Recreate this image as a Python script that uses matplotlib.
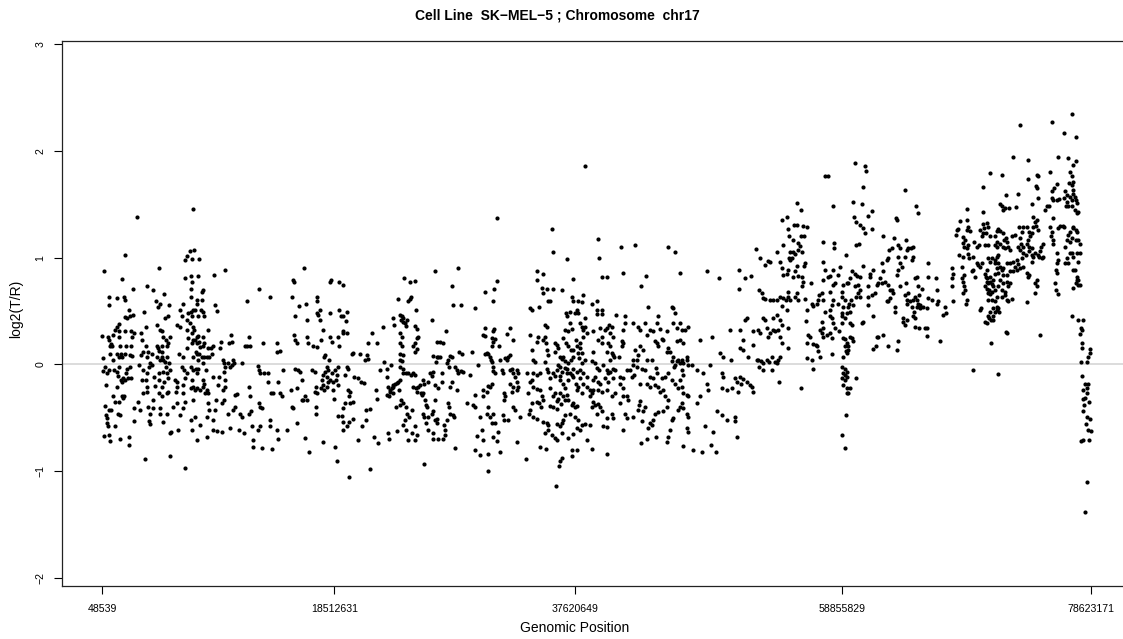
import matplotlib
matplotlib.use("Agg")
import matplotlib.pyplot as plt
import numpy as np

plt.rcParams["font.family"] = ["Liberation Sans", "DejaVu Sans"]

# (position in Mb, log2 ratio) per probe, grouped by stretch of chr17
probes_00_16 = [
    (0.07,0.27),(0.18,0.87),(0.15,0.06),(0.10,-0.06),(0.26,-0.02),(0.36,-0.19),(0.31,-0.39),(0.34,-0.47),
    (0.47,-0.55),(0.23,-0.67),(0.66,-0.72),(0.63,-0.66),(0.60,0.63),(0.63,0.56),(0.50,0.26),(0.63,0.23),
    (0.68,0.17),(0.73,0.19),(0.68,0.10),(0.60,-0.05),(0.42,-0.08),(0.58,-0.43),(0.73,-0.43),(0.42,-0.50),
    (0.55,-0.58),(0.84,0.17),(0.95,0.28),(1.05,0.32),(1.21,0.35),(1.42,0.38),(1.37,0.31),(1.42,0.26),
    (1.48,0.17),(1.53,0.10),(1.61,0.07),(1.37,0.07),(1.26,0.10),(0.95,0.04),(1.00,-0.05),(1.21,-0.07),
    (1.34,-0.11),(1.53,-0.15),(1.74,-0.13),(1.64,-0.16),(1.42,-0.02),(1.21,-0.21),(0.95,-0.30),(1.11,-0.35),
    (1.37,-0.35),(1.61,-0.30),(1.79,-0.30),(1.34,-0.46),(1.48,-0.47),(1.08,-0.58),(1.48,-0.70),(1.21,0.62),
    (1.64,0.80),(1.77,0.63),(1.90,0.60),(1.87,1.02),(1.90,0.44),(2.01,0.43),(1.87,0.31),(1.95,0.17),
    (1.90,0.10),(2.01,-0.04),(1.95,-0.08),(1.90,-0.15),(1.74,-0.31),(2.16,0.51),(2.24,0.45),(2.32,0.31),
    (2.48,0.46),(2.59,0.29),(2.40,0.26),(2.35,0.17),(2.27,0.09),(2.43,0.08),(2.27,-0.02),(2.38,-0.13),
    (2.14,-0.13),(2.54,0.71),(2.59,-0.41),(2.59,-0.53),(2.19,-0.68),(2.19,-0.75),(2.85,1.38),(2.88,-0.35),
    (3.07,-0.43),(3.14,0.29),(3.25,0.23),(3.14,0.09),(3.33,0.12),(3.01,-0.01),(3.28,-0.05),(3.20,-0.15),
    (3.33,-0.27),(3.38,0.49),(3.54,0.35),(3.65,0.73),(3.54,0.17),(3.73,0.12),(3.59,0.07),(3.86,0.01),
    (3.81,-0.02),(3.65,-0.08),(3.54,-0.15),(3.65,-0.21),(3.59,-0.255),(3.73,-0.40),(3.86,-0.46),(3.81,-0.53),
    (3.86,-0.56),(3.46,-0.89),(4.07,0.70),(4.02,0.10),(3.99,-0.01),(4.18,-0.115),(4.26,-0.20),(4.12,-0.33),
    (4.07,-0.41),(4.39,0.37),(4.39,0.17),(4.52,0.15),(4.60,0.13),(4.44,0.07),(4.65,0.04),(4.34,0.59),
    (4.49,0.54),(4.60,0.90),(4.65,0.57),(4.55,-0.08),(4.60,-0.15),(4.55,-0.27),(4.79,-0.30),(4.65,-0.41),
    (4.65,-0.46),(4.65,0.32),(4.79,0.31),(4.87,0.26),(4.79,0.17),(4.81,0.12),(4.79,0.07),(4.92,0.04),
    (5.05,0.025),(5.13,-0.02),(4.92,-0.07),(5.18,-0.08),(4.97,-0.16),(4.79,-0.21),(5.32,-0.13),(5.45,-0.05),
    (5.34,0.01),(5.24,0.07),(5.18,0.17),(5.13,0.23),(5.32,0.20),(5.45,0.26),(4.97,0.66),(5.05,0.43),
    (5.32,0.45),(5.34,0.555),(5.18,-0.27),(5.32,-0.255),(5.24,-0.46),(4.92,-0.54),(5.45,-0.645),(5.50,-0.63),
    (5.45,-0.86),(5.85,-0.15),(5.98,-0.21),(6.03,-0.16),(5.95,-0.255),(6.03,-0.36),(5.71,-0.40),(5.98,0.37),
    (6.24,0.35),(6.19,0.10),(6.24,0.51),(6.37,0.45),(6.51,0.57),(6.64,0.81),(6.64,0.98),(6.77,1.015),
    (6.90,0.48),(6.77,0.415),(6.83,0.32),(6.90,0.245),(6.77,0.15),(6.51,0.07),(6.37,-0.02),(6.56,-0.05),
    (6.77,-0.08),(6.67,-0.13),(6.45,-0.19),(6.51,-0.27),(6.64,-0.35),(6.51,-0.41),(6.24,-0.47),(6.11,-0.61),
    (6.64,-0.97),(7.04,1.065),(7.17,0.99),(7.09,0.83),(7.17,0.775),(7.09,0.71),(7.09,0.635),(7.09,0.49),
    (7.25,0.51),(7.17,0.45),(7.04,0.385),(7.25,0.35),(7.35,0.32),(7.20,0.29),(7.30,0.23),(7.17,0.20),
    (7.25,0.07),(7.12,-0.02),(7.30,-0.05),(7.17,-0.15),(7.30,-0.21),(7.12,-0.22),(7.30,-0.33),(7.14,-0.52),
    (7.17,-0.61),(7.30,1.455),(7.35,1.07),(7.43,0.51),(7.43,0.23),(7.57,0.26),(7.70,0.27),(7.57,0.20),
    (7.78,0.21),(7.51,0.12),(7.62,0.10),(7.70,0.04),(7.51,-0.04),(7.62,-0.08),(7.43,-0.24),(7.57,-0.22),
    (7.83,-0.24),(7.70,-0.04),(7.78,0.10),(7.83,0.16),(7.70,0.45),(7.57,0.57),(7.78,0.99),(7.70,0.83),
    (7.62,0.60),(7.96,0.68),(8.04,0.70),(7.96,0.60),(7.88,0.51),(8.04,0.49),(8.15,0.45),(8.09,0.26),
    (8.15,0.20),(8.04,0.17),(7.96,0.07),(8.15,0.07),(8.09,0.01),(8.09,-0.15),(8.15,-0.18),(8.04,-0.21),
    (8.23,-0.27),(8.36,-0.24),(8.28,-0.05),(8.49,0.32),(8.36,0.07),(8.49,0.15),(8.57,0.07),(8.49,-0.36),
    (8.49,-0.27),(8.52,-0.43),(8.36,-0.49),(8.36,-0.68),(7.83,-0.57),(7.62,-0.71),(7.43,-0.49),(8.68,0.15),
    (8.76,0.10),(8.84,0.17),(8.89,-0.115),(8.94,0.84),(9.05,0.555),(9.21,0.50),(9.10,-0.33),(9.02,-0.43),
    (9.16,-0.62),(8.89,-0.61),(8.84,-0.52),(9.29,-0.19),(9.37,-0.115),(9.42,0.15),(9.53,0.21),(9.68,0.04),
    (9.74,0.01),(9.82,-0.02),(9.74,-0.07),(9.79,-0.15),(9.79,-0.21),(9.68,-0.24),(9.74,-0.33),(9.55,-0.36),
    (9.55,-0.63),(9.79,0.88),(10.16,0.20),(10.27,0.275),(10.35,0.21),(10.08,0.01),(10.21,-0.02),(10.37,-0.01),
    (10.48,0.04),(10.53,0.01),(10.08,-0.46),(10.21,-0.60),(10.48,-0.43),(10.61,-0.40),(10.61,-0.29),(10.80,-0.28),
    (10.90,-0.61),(11.01,-0.46),(11.14,-0.49),(11.19,0.01),(11.33,-0.645),(11.43,0.17),(11.54,0.59),(11.59,0.17),
    (11.75,0.26),(11.80,0.17),(11.75,-0.21),(11.80,-0.30),(11.75,-0.46),(11.86,-0.44),(11.94,-0.58),(12.02,-0.77),
    (12.07,-0.71),(12.44,-0.015),(12.54,-0.05),(12.54,0.71),(12.60,-0.08),(12.49,-0.36),(12.62,-0.40),(12.73,-0.41),
    (12.86,0.20),(12.92,-0.08),(12.60,-0.58),(12.73,-0.78),(12.41,-0.61),(13.26,-0.08),(13.26,-0.16),(13.39,0.635),
    (13.47,-0.27),(13.66,-0.27),(13.39,-0.52),(13.39,-0.58),(13.52,-0.79),(13.92,0.12),(13.97,0.20),(14.19,0.13),
    (14.03,-0.16),(13.97,-0.61),(14.05,-0.70),(14.19,-0.27),(14.32,-0.30),(14.40,-0.05),(14.72,-0.61),(15.06,-0.24),
    (15.11,-0.40),(15.25,-0.41),(15.14,0.635),(15.19,0.79),(15.30,0.775),(15.38,0.45),(15.30,0.275),(15.40,0.23),
    (15.51,0.20),(15.40,-0.04),(15.56,-0.22),(15.64,-0.05),(15.78,-0.07),(15.72,0.55),(15.91,-0.15),(15.91,-0.33),
    (16.04,-0.33),(16.17,-0.30),(15.51,-0.55),(16.17,-0.69),(16.30,-0.33),(16.30,0.26),(16.44,0.20),(16.36,0.415),
    (16.25,0.565),(16.09,0.90),(16.52,-0.82),
]

probes_16_36 = [
    (16.78,0.17),(17.10,0.16),(16.71,-0.05),(16.97,-0.07),(16.97,-0.255),(17.05,-0.21),(17.10,-0.27),(17.10,0.635),
    (17.16,0.59),(17.10,0.48),(17.24,0.46),(17.05,-0.40),(17.05,-0.46),(17.58,-0.73),(17.37,0.51),(17.37,0.415),
    (17.42,0.23),(17.63,0.32),(17.69,0.07),(17.77,0.09),(17.90,-0.02),(18.03,-0.05),(17.77,-0.07),(17.63,-0.10),
    (17.90,-0.115),(17.50,-0.15),(17.63,-0.19),(17.69,-0.24),(17.42,-0.22),(17.90,-0.21),(18.03,-0.16),(18.16,-0.15),
    (18.30,-0.08),(18.11,0.04),(18.16,0.26),(18.30,0.21),(18.13,0.48),(18.22,0.79),(18.16,0.775),(18.43,-0.16),
    (18.37,-0.24),(18.48,-0.32),(18.64,-0.15),(18.75,-0.10),(18.83,-0.19),(18.56,-0.05),(18.83,-0.02),(18.90,0.17),
    (18.83,0.26),(18.90,0.51),(19.01,0.45),(19.22,0.45),(19.22,0.31),(19.17,0.29),(18.90,0.775),(19.22,0.74),
    (19.49,0.49),(19.43,0.41),(19.49,0.29),(19.62,-0.24),(19.75,-0.255),(19.70,-0.30),(19.75,-0.36),(19.49,-0.02),
    (19.35,-0.10),(19.62,-0.04),(19.35,-0.36),(19.22,-0.41),(18.83,-0.48),(19.09,-0.48),(19.22,-0.54),(19.17,-0.61),
    (19.49,-0.58),(19.70,-0.54),(19.96,-0.51),(20.02,-0.35),(18.56,-0.77),(18.69,-0.90),(19.70,-1.05),
    (19.88,0.10),(19.96,0.11),(20.10,-0.115),(20.41,-0.13),(20.55,0.10),(20.60,-0.16),(20.86,-0.17),(20.94,0.04),
    (21.08,0.09),(21.21,0.05),(21.21,0.20),(21.47,0.29),(21.02,-0.43),(21.34,-0.42),(20.68,-0.58),(21.02,-0.52),
    (20.41,-0.71),(21.34,-0.98),(21.66,-0.68),(22.00,-0.74),(21.82,-0.24),(21.87,-0.32),(21.92,0.20),(22.14,-0.05),
    (22.35,0.35),(22.45,0.025),(22.66,-0.115),(22.80,-0.21),(22.72,-0.29),(22.93,-0.24),(22.88,-0.30),(23.06,-0.22),
    (23.19,-0.27),(23.14,-0.19),(23.25,0.37),(23.19,0.43),(22.80,-0.645),(22.88,-0.70),(22.66,-0.04),(22.98,-0.01),
    (23.33,-0.18),(23.41,-0.40),(23.51,-0.62),(23.59,0.61),(23.72,0.46),(23.86,0.45),(23.78,0.415),(23.99,0.43),
    (23.99,0.40),(24.12,0.385),(24.20,0.36),(24.25,0.415),(24.39,0.59),(24.52,0.61),(24.60,0.635),(24.04,0.81),
    (24.52,0.775),(24.94,0.78),(24.97,0.51),(24.92,0.36),(25.05,0.33),(25.18,0.26),(25.10,0.245),(24.92,0.20),
    (24.78,0.17),(25.05,0.145),(24.92,0.12),(23.72,0.29),(23.86,0.26),(23.72,0.20),(23.86,0.17),(23.72,0.10),
    (23.94,0.09),(23.72,0.04),(23.86,0.03),(23.72,-0.02),(23.94,-0.04),(23.99,-0.08),(24.20,-0.08),(24.39,-0.08),
    (24.57,-0.10),(24.78,-0.08),(24.92,-0.10),(23.72,-0.15),(23.59,-0.16),(23.46,-0.17),(23.19,-0.21),(22.93,-0.26),
    (23.67,-0.24),(23.78,-0.33),(23.72,-0.38),(23.99,-0.36),(24.20,-0.40),(24.25,-0.46),(24.12,-0.52),(23.99,-0.57),
    (24.20,-0.61),(24.39,-0.71),(24.92,-0.58),(25.05,-0.66),(24.92,-0.71),(24.65,-0.645),(24.47,-0.49),(24.65,-0.43),
    (24.78,-0.21),(25.00,-0.22),(25.18,-0.21),(25.05,-0.255),(25.37,-0.27),(25.45,-0.29),(25.58,-0.27),(25.31,-0.19),
    (25.52,-0.15),(25.63,-0.18),(25.71,-0.33),(25.79,-0.38),(25.84,-0.40),(25.52,-0.46),(25.63,-0.49),(25.79,-0.55),
    (25.97,-0.49),(26.24,-0.46),(26.37,-0.44),(26.50,-0.52),(26.64,-0.55),(26.69,-0.51),(26.37,-0.645),(26.77,-0.70),
    (26.32,-0.70),(25.97,-0.61),(25.63,-0.93),(26.24,0.415),(26.50,0.87),(25.97,-0.16),(26.11,-0.08),(26.32,-0.07),
    (26.24,-0.11),(26.50,-0.19),(26.50,-0.33),(26.77,-0.22),(27.03,-0.16),(27.03,-0.08),(26.64,0.07),(26.77,0.07),
    (26.90,0.07),(26.58,0.025),(26.37,0.08),(26.90,0.21),(27.17,0.20),(27.38,0.31),(26.64,0.21),(27.43,0.01),
    (27.56,0.04),(27.70,0.08),(27.83,0.07),(27.64,-0.02),(28.09,-0.02),(28.23,-0.05),(28.36,-0.08),(28.54,-0.06),
    (28.76,-0.07),(28.44,0.12),(28.62,0.10),(27.83,0.73),(27.91,0.56),(28.36,0.90),(28.57,0.555),(27.83,-0.16),
    (27.70,-0.21),(27.56,-0.36),(27.64,-0.40),(27.70,-0.46),(27.91,-0.47),(28.01,-0.49),(27.43,-0.52),(27.22,-0.57),
    (27.30,-0.61),(27.30,-0.66),(27.17,-0.70),(28.09,-0.78),(28.23,-0.24),(29.02,-0.36),(29.28,-0.10),(29.42,0.12),
    (29.55,-0.38),(29.68,-0.40),(29.68,-0.29),(29.95,-0.01),(29.68,0.525),(30.29,0.275),(30.48,0.27),(30.48,0.34),
    (30.48,0.10),(30.61,0.11),(30.74,0.10),(30.87,0.07),(30.93,0.04),(31.01,0.02),(31.09,-0.02),(31.14,-0.06),
    (31.27,-0.08),(31.01,0.17),(31.14,0.21),(31.27,0.235),(31.01,0.245),(31.22,0.33),(31.14,0.59),(31.19,0.71),
    (31.40,0.78),(30.48,0.68),(31.14,0.31),(31.01,-0.18),(30.87,-0.21),(30.74,-0.20),(30.61,-0.255),(30.34,-0.30),
    (30.29,-0.24),(30.08,-0.49),(30.21,-0.61),(30.34,-0.71),(30.08,-0.85),(30.74,-0.84),(29.68,-0.80),(29.81,-0.67),
    (30.74,-1.00),(30.61,-0.46),(30.74,-0.40),(30.87,-0.49),(31.14,-0.46),(31.01,-0.55),(31.27,-0.55),(31.09,-0.68),
    (31.40,-0.72),(31.54,-0.63),(31.67,-0.82),(31.46,1.37),(31.62,0.17),(31.67,0.04),(31.80,-0.05),(31.93,-0.08),
    (32.06,0.06),(32.20,0.04),(32.33,0.07),(32.46,0.09),(32.20,0.285),(32.46,0.34),(32.73,0.23),(32.46,-0.05),
    (32.59,-0.04),(32.73,-0.08),(32.86,-0.115),(32.99,-0.05),(33.12,-0.08),(32.99,-0.16),(33.12,-0.21),(32.99,-0.24),
    (32.73,-0.21),(32.59,-0.255),(32.46,-0.18),(31.99,-0.27),(32.06,-0.30),(31.99,-0.33),(31.93,-0.47),(31.99,-0.52),
    (32.33,-0.52),(32.73,-0.40),(32.86,-0.43),(33.26,-0.49),(32.99,-0.73),(33.73,-0.89),(34.05,0.525),(34.18,0.51),
    (34.05,0.275),(34.18,0.135),(34.32,0.04),(34.45,0.025),(34.58,0.21),(34.71,0.26),(34.63,0.87),(35.06,0.85),
    (34.58,0.79),(34.74,0.535),(34.98,0.72),(35.38,0.71),(35.51,0.59),(35.11,0.665),(35.24,0.37),(35.38,0.35),
    (35.24,0.26),(35.11,0.23),(35.32,0.20),(35.38,0.135),(35.51,0.09),(35.24,0.025),(35.38,-0.04),(35.51,-0.07),
    (34.85,-0.08),(34.58,-0.10),(34.32,-0.08),(34.18,-0.15),(34.05,-0.16),(34.32,-0.21),(34.63,-0.23),(34.85,-0.24),
    (34.98,-0.30),(35.11,-0.33),(34.79,-0.36),(34.63,-0.35),(34.18,-0.36),(34.05,-0.43),(34.00,-0.46),(34.32,-0.49),
    (34.58,-0.51),(34.90,-0.40),(35.11,-0.54),(35.38,-0.55),(35.51,-0.57),(35.24,-0.645),(35.51,-0.61),(34.85,-0.77),
    (35.32,-0.79),(33.92,-0.27),(33.84,-0.08),
]

probes_36_55 = [
    (38.42,1.86),(35.78,1.27),(35.86,1.05),(37.02,0.99),(39.46,1.175),(39.51,1.00),(41.26,1.10),(42.40,1.12),
    (44.99,1.10),(45.57,1.05),(45.97,0.86),(37.50,0.80),(39.75,0.815),(40.20,0.815),(41.42,0.86),(43.24,0.83),
    (42.87,0.735),(48.09,0.875),(49.10,0.81),(50.69,0.885),(51.13,0.81),(51.58,0.83),(52.01,1.08),(50.69,0.71),
    (35.86,0.71),(36.57,0.70),(35.64,0.59),(36.04,0.20),(36.17,0.18),(36.31,0.15),(36.04,0.12),(36.44,0.07),
    (36.57,0.05),(36.70,0.07),(36.84,0.03),(36.31,-0.005),(36.44,-0.02),(36.17,-0.05),(36.84,-0.03),(35.91,-0.08),
    (35.64,-0.13),(36.04,-0.11),(36.44,-0.11),(36.57,-0.07),(36.97,-0.08),(37.23,-0.08),(37.37,-0.10),(37.50,-0.115),
    (37.10,-0.15),(36.44,-0.15),(36.70,-0.18),(36.84,-0.22),(36.97,-0.29),(36.70,-0.295),(36.44,-0.27),(36.31,-0.32),
    (35.91,-0.30),(36.04,-0.27),(35.64,-0.22),(35.64,-0.39),(35.91,-0.395),(36.17,-0.42),(36.23,-0.34),(36.49,-0.37),
    (36.84,-0.33),(37.10,-0.33),(37.37,-0.38),(37.50,-0.36),(37.63,-0.395),(37.76,-0.39),(37.23,-0.46),(36.84,-0.47),
    (36.70,-0.52),(36.57,-0.55),(36.44,-0.58),(36.17,-0.56),(35.78,-0.66),(36.04,-0.69),(36.17,-0.71),(36.57,-0.64),
    (37.10,-0.69),(37.50,-0.65),(37.76,-0.60),(38.16,-0.57),(37.90,-0.52),(37.63,-0.495),(38.42,-0.56),(37.37,-0.80),
    (37.76,-0.80),(37.37,-0.86),(36.57,-0.88),(36.44,-0.90),(36.39,-0.95),(36.12,-1.14),(38.56,-0.71),(38.03,-0.61),
    (36.92,0.485),(36.97,0.45),(37.23,0.495),(37.37,0.63),(37.50,0.59),(37.76,0.51),(37.63,0.48),(37.90,0.59),
    (38.16,0.58),(38.29,0.65),(37.90,0.485),(38.03,0.385),(38.16,0.35),(38.29,0.32),(38.42,0.35),(38.29,0.26),
    (38.42,0.43),(38.56,0.29),(37.23,0.385),(37.37,0.33),(37.10,0.31),(36.84,0.32),(36.70,0.245),(36.92,0.20),
    (37.10,0.17),(37.29,0.135),(37.50,0.135),(37.76,0.17),(37.71,0.23),(38.03,0.20),(38.03,0.15),(37.90,0.11),
    (38.16,0.105),(37.97,0.06),(37.50,0.07),(37.29,0.04),(37.10,0.01),(36.97,-0.04),(37.50,-0.045),(37.76,-0.07),
    (38.03,-0.05),(38.16,0.01),(38.42,0.04),(38.29,-0.08),(38.56,-0.115),(38.03,-0.13),(37.71,-0.18),(37.90,-0.21),
    (38.29,-0.18),(38.56,-0.21),(38.16,-0.27),(37.76,-0.24),(38.82,-0.24),(38.95,-0.27),(38.95,0.57),(39.35,0.59),
    (39.40,0.51),(39.75,0.51),(39.40,0.47),(39.75,0.47),(39.09,0.31),(39.62,0.34),(39.75,0.26),(39.48,0.23),
    (39.75,0.205),(40.01,0.32),(40.15,0.34),(40.36,0.37),(40.41,0.29),(40.54,0.35),(40.68,0.26),(40.89,0.465),
    (40.28,0.20),(40.41,0.17),(40.15,0.12),(40.54,0.105),(40.68,0.09),(40.41,0.04),(40.73,0.07),(41.15,0.07),
    (41.34,0.215),(41.47,0.20),(41.34,0.17),(41.60,0.385),(41.47,0.32),(39.09,0.12),(38.95,0.03),(39.22,0.01),
    (39.35,-0.03),(39.56,-0.05),(39.88,-0.005),(40.15,-0.05),(40.28,-0.08),(40.41,-0.07),(40.62,-0.045),(40.81,-0.05),
    (39.22,-0.115),(39.09,-0.15),(39.48,-0.16),(39.62,-0.18),(40.01,-0.13),(40.28,-0.16),(40.68,-0.13),(41.21,-0.115),
    (41.47,-0.13),(39.09,-0.24),(39.48,-0.24),(39.75,-0.255),(40.15,-0.24),(40.54,-0.295),(40.81,-0.27),(41.21,-0.18),
    (41.42,-0.22),(38.82,-0.30),(39.09,-0.35),(39.22,-0.38),(38.95,-0.395),(39.48,-0.37),(39.62,-0.395),(39.35,-0.46),
    (39.75,-0.44),(40.15,-0.50),(40.54,-0.46),(40.62,-0.50),(41.21,-0.36),(41.47,-0.30),(38.82,-0.57),(39.88,-0.58),
    (40.15,-0.59),(41.47,-0.61),(40.15,-0.84),(38.95,-0.795),(41.60,0.45),(42.26,0.385),(42.66,0.35),(42.79,0.32),
    (43.19,0.385),(43.46,0.54),(43.32,0.275),(43.59,0.32),(43.85,0.31),(44.12,0.385),(44.25,0.45),(44.38,0.33),
    (43.99,0.215),(44.12,0.20),(44.25,0.17),(44.52,0.235),(44.65,0.23),(44.91,0.31),(45.31,0.54),(45.44,0.525),
    (45.57,0.48),(45.39,0.385),(45.71,0.34),(45.97,0.385),(46.10,0.32),(46.37,0.32),(46.63,0.35),(45.76,0.215),
    (45.97,0.23),(46.24,0.20),(42.40,0.135),(42.66,0.09),(42.79,0.17),(43.06,0.135),(42.26,0.04),(42.53,0.04),
    (42.93,-0.04),(43.32,0.04),(43.72,0.04),(44.07,-0.03),(44.12,-0.08),(43.85,-0.13),(43.59,-0.115),(43.19,-0.05),
    (42.53,-0.02),(42.21,-0.005),(42.00,-0.05),(42.13,-0.115),(41.73,-0.05),(42.32,-0.10),(42.79,-0.18),(43.32,-0.18),
    (43.59,-0.215),(43.99,-0.19),(44.25,-0.21),(44.52,-0.13),(44.78,-0.115),(45.04,-0.08),(45.31,-0.15),(45.57,-0.005),
    (45.71,0.03),(45.84,0.04),(45.97,0.01),(46.10,0.04),(45.49,-0.02),(45.44,0.07),(45.18,0.12),(44.91,0.12),
    (45.04,0.15),(45.31,0.03),(46.50,0.07),(46.55,0.04),(46.63,-0.005),(46.90,-0.005),(46.24,0.01),(45.57,-0.18),
    (45.84,-0.22),(46.10,-0.21),(46.24,-0.27),(46.50,-0.29),(46.63,-0.30),(46.10,-0.05),(46.24,-0.10),(45.97,-0.15),
    (44.38,-0.255),(44.65,-0.24),(44.78,-0.30),(45.04,-0.33),(44.91,-0.395),(44.65,-0.44),(44.25,-0.45),(43.99,-0.46),
    (43.85,-0.52),(43.59,-0.55),(43.46,-0.60),(43.19,-0.395),(42.79,-0.34),(42.74,-0.38),(42.66,-0.43),(43.06,-0.44),
    (41.73,-0.30),(41.87,-0.33),(41.60,-0.46),(41.73,-0.50),(42.26,-0.49),(42.93,-0.53),(43.72,-0.57),(44.07,-0.675),
    (43.38,-0.70),(42.85,-0.74),(44.91,-0.73),(45.04,-0.675),(45.18,-0.61),(45.31,-0.52),(45.44,-0.50),(45.84,-0.43),
    (45.97,-0.395),(46.10,-0.36),(46.24,-0.41),(46.50,-0.46),(46.63,-0.49),(46.50,-0.60),(46.63,-0.63),(46.24,-0.76),
    (47.03,-0.80),(47.69,-0.82),(48.41,-0.755),(48.83,-0.82),(47.30,-0.36),(47.56,-0.30),(47.96,-0.58),(48.62,-0.63),
    (48.88,-0.44),(49.28,-0.47),(49.68,-0.52),(50.34,-0.49),(50.34,-0.53),(50.47,-0.68),(48.09,-0.18),(48.22,-0.24),
    (47.83,-0.08),(48.35,-0.005),(47.30,-0.05),(47.56,0.23),(48.49,0.26),(49.15,0.105),(49.36,0.07),(49.28,-0.08),
    (49.41,-0.115),(49.94,0.32),(50.00,0.04),(50.34,-0.13),(50.47,-0.16),(50.74,-0.115),(50.79,-0.18),(51.00,-0.14),
    (51.27,-0.16),(51.53,-0.19),(51.66,-0.21),(51.80,-0.255),(49.28,-0.22),(49.68,-0.24),(50.08,-0.22),(50.61,-0.255),
    (51.27,0.43),(51.13,0.42),(50.74,0.32),(51.00,0.23),(50.74,0.15),(51.00,0.135),(51.40,0.07),(51.80,0.18),
    (52.06,0.04),(52.19,0.04),(52.38,0.03),(52.59,0.01),(52.86,0.04),(53.07,0.02),(53.25,0.07),(53.52,0.02),
    (53.65,0.01),(53.78,0.04),(53.91,0.07),(52.27,-0.02),(52.54,-0.05),(53.25,-0.05),(53.86,-0.16),(51.80,0.31),
    (52.19,0.32),(52.33,0.29),(52.59,0.43),(52.72,0.42),(52.86,0.34),(52.99,0.26),(53.12,0.29),(53.33,0.32),
    (53.52,0.31),(53.78,0.32),(53.91,0.26),(54.05,0.20),(54.58,0.15),(52.27,0.70),(52.46,0.665),(52.54,0.62),
    (52.72,0.61),(53.12,0.60),(53.39,0.60),(53.65,0.60),(53.91,0.635),(54.18,0.62),(54.39,0.60),(54.58,0.635),
    (54.05,0.55),(54.45,0.51),(53.65,0.465),(53.39,0.43),(53.91,0.42),(54.05,0.37),(54.58,0.34),(54.58,0.68),
    (54.45,0.85),(54.58,0.885),(54.18,0.84),(54.05,0.90),(53.91,0.96),(54.13,1.12),(53.12,0.96),(52.72,0.93),
    (52.99,0.97),(52.33,0.995),(53.70,1.05),(54.05,1.35),(54.45,1.38),(54.58,1.265),(54.66,1.20),(54.66,0.995),
]

probes_55_71 = [
    (55.29,1.51),(55.55,1.45),(55.02,1.305),(55.29,1.305),(55.76,1.30),(56.03,1.29),(54.92,1.165),(55.55,1.20),
    (55.82,1.20),(55.37,1.135),(54.70,1.05),(54.97,1.05),(55.10,1.035),(54.84,0.995),(54.70,0.98),(55.37,1.07),
    (55.63,1.05),(55.50,1.11),(55.23,0.92),(55.90,0.95),(55.82,0.92),(55.10,0.87),(54.97,0.82),(55.37,0.83),
    (55.63,0.82),(55.76,0.775),(55.63,0.73),(55.23,0.665),(55.10,0.635),(54.70,0.60),(55.37,0.60),(55.55,-0.22),
    (55.90,0.61),(56.03,0.51),(56.43,0.57),(56.35,0.76),(55.98,0.41),(56.16,0.275),(56.29,0.26),(56.03,0.20),
    (56.03,0.06),(56.43,0.04),(56.56,-0.04),(56.56,0.19),(56.77,0.18),(56.88,0.17),(56.96,0.13),(57.09,0.07),
    (57.35,1.145),(57.35,0.96),(57.48,0.885),(57.35,0.79),(57.75,0.82),(57.88,0.83),(58.09,0.885),(58.20,1.135),
    (58.20,1.09),(58.28,0.76),(58.15,0.745),(58.54,0.84),(58.68,0.91),(57.03,0.65),(57.22,0.665),(56.96,0.60),
    (56.82,0.57),(56.56,0.55),(57.35,0.60),(57.48,0.495),(57.22,0.40),(57.30,0.34),(57.88,0.68),(58.15,0.60),
    (58.01,0.56),(57.88,0.51),(57.88,0.45),(58.01,0.43),(58.15,0.385),(58.28,0.34),(57.88,0.29),(58.01,0.245),
    (58.01,0.095),(57.22,0.29),(57.09,0.32),(57.35,0.26),(57.67,0.275),(58.62,0.31),(58.81,0.68),(58.94,0.745),
    (59.21,0.76),(59.34,0.76),(59.15,1.025),(59.47,0.81),(59.60,0.87),(59.87,0.85),(60.00,0.83),(60.27,0.82),
    (60.48,0.92),(59.95,1.12),(60.21,1.125),(59.79,1.38),(59.95,1.33),(60.40,1.50),(60.53,1.66),(60.66,1.86),
    (60.74,1.81),(59.87,1.89),(59.74,1.52),(60.27,1.305),(60.53,1.275),(60.66,1.23),(60.93,1.39),(61.19,1.44),
    (61.22,1.265),(60.13,0.745),(59.87,0.73),(60.27,0.70),(60.13,0.665),(59.95,0.635),(59.52,0.60),(59.42,0.57),
    (58.81,0.635),(59.07,0.60),(59.34,0.54),(59.68,0.56),(58.94,0.54),(58.81,0.48),(59.21,0.485),(59.47,0.495),
    (58.81,0.45),(59.07,0.43),(58.81,0.385),(59.47,0.385),(59.60,0.37),(58.89,0.245),(59.07,0.235),(59.47,0.26),
    (59.60,0.245),(59.74,0.22),(59.21,0.20),(59.07,0.17),(59.34,0.17),(59.15,0.13),(59.34,0.135),(59.21,0.105),
    (58.94,0.07),(58.81,-0.02),(59.07,-0.045),(59.21,-0.07),(58.89,-0.08),(59.07,-0.10),(58.81,-0.13),(59.07,-0.15),
    (59.26,-0.115),(58.94,-0.19),(59.21,-0.22),(59.47,-0.22),(59.21,-0.27),(59.34,-0.27),(59.92,-0.13),(59.15,-0.47),
    (58.84,-0.66),(59.10,-0.78),(58.54,0.57),(57.48,1.76),(57.75,1.765),(58.09,1.48),(60.27,0.635),(60.40,0.385),
    (60.53,0.40),(60.93,0.73),(61.06,0.82),(61.06,0.85),(61.32,0.885),(60.93,0.635),(61.19,0.65),(61.46,0.665),
    (61.59,0.745),(61.72,0.76),(61.85,0.81),(61.99,0.95),(62.12,0.87),(62.38,0.98),(62.52,0.995),(62.60,1.07),
    (62.78,1.09),(62.97,1.18),(63.31,1.12),(63.44,1.09),(63.31,1.01),(63.44,0.95),(63.58,0.915),(63.84,1.01),
    (63.92,1.165),(63.97,1.07),(64.10,1.09),(64.29,1.09),(64.45,1.10),(64.37,0.98),(64.45,1.01),(63.18,1.35),
    (63.13,1.37),(63.84,1.63),(64.71,1.48),(64.90,1.42),(62.12,1.20),(60.93,0.56),(61.32,0.45),(61.59,0.26),
    (61.72,0.255),(62.12,0.275),(61.32,0.14),(61.54,0.17),(62.52,0.17),(63.18,0.135),(63.31,0.215),(63.05,0.54),
    (63.05,0.495),(61.99,0.76),(62.25,0.775),(62.52,0.745),(62.65,0.70),(62.78,0.70),(62.52,0.59),(62.38,0.59),
    (62.65,0.62),(62.86,0.665),(63.31,0.885),(63.23,0.84),(63.44,0.73),(63.71,0.43),(63.71,0.40),(63.97,0.42),
    (63.84,0.37),(63.84,0.65),(63.92,0.76),(64.10,0.665),(63.97,0.60),(63.97,0.57),(64.24,0.59),(64.37,0.54),
    (64.50,0.60),(64.63,0.635),(64.55,0.495),(64.50,0.45),(64.63,0.355),(64.77,0.60),(64.82,0.54),(64.90,0.57),
    (65.03,0.56),(64.98,0.65),(65.16,0.71),(64.82,0.82),(64.63,0.81),(64.90,0.73),(65.03,0.525),(65.30,0.54),
    (65.61,0.525),(64.63,0.43),(64.98,0.34),(65.43,0.34),(65.56,0.34),(65.56,0.265),(65.69,0.62),(65.69,0.82),
    (65.96,0.60),(65.69,0.95),(66.36,0.70),(66.36,0.57),(66.49,0.59),(66.30,0.81),(66.88,0.465),(67.02,0.54),
    (67.10,0.48),(66.62,0.215),(67.55,0.90),(67.63,0.85),(67.55,0.81),(67.55,0.73),(67.68,0.59),(67.94,1.26),
    (67.89,1.21),(68.08,1.265),(68.21,1.34),(68.16,1.025),(68.34,0.915),(68.47,1.19),(68.61,1.165),(68.42,1.135),
    (68.53,1.10),(68.42,1.01),(68.74,1.26),(68.74,1.455),(68.79,1.35),(68.87,1.29),(69.00,1.245),(68.87,1.12),
    (68.74,1.09),(68.87,1.035),(68.95,0.995),(69.14,0.87),(69.27,0.885),(69.40,0.82),(69.22,1.01),(69.32,1.15),
    (69.53,1.10),(69.75,1.12),(69.59,0.95),(69.67,0.93),(69.80,0.915),(69.93,0.95),(70.06,1.23),(69.93,1.20),
    (69.80,1.26),(70.01,1.315),(70.12,1.275),(70.33,1.32),(70.46,1.29),(70.27,1.23),(70.59,1.20),(70.46,1.12),
    (70.19,1.12),(70.46,0.995),(70.59,0.96),(70.33,0.885),(70.19,0.85),(70.27,0.82),(70.38,0.81),(70.59,0.82),
    (70.59,0.775),(70.33,0.775),(70.46,0.76),(70.72,0.755),(70.86,0.73),(70.19,0.73),(70.33,0.71),(70.54,0.70),
    (70.72,0.68),(70.46,0.665),(70.59,0.66),(70.86,0.79),(70.99,0.85),(71.12,0.90),(71.25,0.95),(71.12,1.01),
    (70.99,1.12),(71.12,1.245),(71.25,1.265),(70.99,1.20),(68.47,0.775),(68.53,0.73),(68.61,0.70),(68.74,0.60),
    (68.69,0.57),(68.47,0.665),(70.46,0.60),(70.99,0.59),(70.86,0.525),(70.59,0.495),(70.46,0.45),(70.19,0.40),
    (70.33,0.385),(70.64,0.42),(70.86,0.42),(71.12,0.51),(71.25,0.525),(71.33,0.495),(70.54,0.43),(69.85,0.525),
    (70.06,1.665),(70.06,1.43),(70.59,1.79),(69.27,-0.05),(71.25,-0.09),(70.70,0.205),(69.80,0.51),(68.34,0.81),
    (68.53,0.84),
]

probes_71_79 = [
    (71.13,1.10),(71.26,1.025),(71.00,0.98),(71.00,0.947),(71.26,0.853),(71.00,0.70),(71.26,0.73),(71.13,0.635),
    (70.73,0.60),(71.13,0.54),(71.00,0.49),(70.86,0.45),(71.18,1.15),(70.73,0.994),
    (71.53,1.77),(71.39,1.50),(71.53,1.48),(71.66,1.45),(71.87,1.59),(71.79,1.46),(72.14,1.46),(72.40,1.94),
    (72.67,1.47),(72.85,1.60),(72.98,2.24),(71.39,1.25),(71.66,1.23),(71.71,1.165),(71.87,1.18),(71.98,1.15),
    (71.61,1.10),(72.06,1.10),(71.79,1.09),(72.19,1.07),(72.32,1.20),(72.59,1.21),(71.39,1.13),(71.39,0.915),
    (71.53,0.885),(71.66,0.90),(71.92,0.947),(72.19,0.95),(72.45,0.96),(72.72,0.98),(72.85,0.94),(72.59,0.915),
    (72.45,0.87),(72.19,0.87),(71.92,0.84),(71.66,0.84),(71.39,0.79),(71.53,0.70),(71.79,0.68),(72.06,0.73),
    (72.19,0.76),(71.92,0.775),(71.66,0.76),(71.53,0.635),(71.79,0.65),(71.92,0.60),(72.06,0.59),(72.32,0.61),
    (71.87,0.30),(71.92,0.29),(72.93,1.29),(73.25,1.29),(73.12,1.24),(72.98,1.18),(73.04,1.13),(72.85,1.10),
    (73.25,1.10),(72.98,1.07),(73.25,1.04),(73.12,0.994),(72.72,0.885),(72.98,0.90),(73.25,0.915),(73.51,0.853),
    (73.72,0.84),(73.65,0.82),(73.46,1.025),(73.72,1.06),(73.91,1.025),(74.04,1.01),(74.17,1.04),(74.44,1.025),
    (74.52,1.01),(74.70,0.994),(74.84,1.01),(74.57,1.06),(74.62,1.10),(74.84,1.13),(73.72,1.10),(73.91,1.09),
    (73.57,1.13),(73.78,1.20),(73.91,1.23),(73.72,1.24),(74.04,1.29),(74.25,1.30),(74.44,1.26),(74.31,1.35),
    (74.17,1.33),(73.99,1.38),(74.44,1.555),(74.31,1.65),(74.25,1.67),(74.44,1.765),(74.36,1.774),(73.91,1.50),
    (73.65,1.74),(73.65,1.91),(73.57,1.29),(73.65,1.165),(73.91,0.96),(73.57,0.58),(74.17,0.665),(74.31,0.73),
    (74.36,0.79),(74.17,0.765),(74.57,0.275),(74.97,1.45),(75.10,1.48),(75.37,1.805),(75.31,1.48),(75.50,1.555),
    (75.63,1.54),(75.63,1.37),(75.37,1.29),(75.50,1.24),(75.42,1.20),(75.63,1.165),(75.63,1.13),(75.50,1.62),
    (75.68,1.65),(75.90,1.69),(75.90,1.54),(76.11,1.55),(75.50,2.27),(76.03,1.94),(76.03,1.275),(76.16,1.30),
    (76.37,1.30),(76.48,1.29),(76.56,1.62),(76.69,1.59),(76.48,1.555),(76.64,1.48),(76.82,1.48),(76.69,1.525),
    (76.96,1.57),(77.09,1.54),(77.22,1.60),(77.35,1.57),(77.43,1.54),(77.54,1.51),(77.62,1.43),(77.48,1.415),
    (77.35,1.45),(77.09,1.48),(77.17,1.63),(77.09,1.68),(76.90,1.70),(77.22,1.71),(77.09,1.76),(76.96,1.805),
    (77.22,1.87),(77.43,1.90),(76.82,1.93),(76.48,2.17),(77.09,2.345),(77.43,2.13),(75.90,1.04),(76.03,0.98),
    (75.90,0.947),(75.84,0.885),(75.90,0.86),(75.76,0.76),(75.84,0.70),(76.03,0.66),(76.56,1.10),(76.69,1.165),
    (76.96,1.15),(76.82,1.21),(77.09,1.18),(76.96,1.24),(77.22,1.275),(77.43,1.26),(77.54,1.24),(77.17,1.29),
    (76.82,0.947),(76.69,0.994),(76.56,0.947),(76.96,1.04),(77.09,1.04),(77.22,1.01),(77.43,1.165),(77.62,1.165),
    (77.75,1.13),(77.54,1.04),(77.75,1.04),(77.62,0.96),(77.35,0.885),(77.22,0.885),(77.48,0.82),(77.54,0.79),
    (77.43,0.76),(77.62,0.74),(77.75,0.74),(77.22,0.72),(77.62,0.79),(77.14,0.45),(77.62,0.42),(77.96,0.42),
    (77.80,0.34),(77.88,0.32),(77.75,0.285),(77.88,0.20),(77.88,0.15),(78.54,0.14),(78.54,0.105),(78.41,0.07),
    (78.28,0.026),(77.80,0.02),(77.91,-0.11),(78.15,-0.18),(78.41,-0.18),(78.28,-0.22),(78.01,-0.24),(78.28,-0.27),
    (78.15,-0.31),(77.96,-0.32),(78.49,-0.35),(78.09,-0.38),(77.96,-0.44),(78.28,-0.49),(78.54,-0.51),(78.23,-0.56),
    (78.41,-0.61),(78.62,-0.62),(77.80,-0.72),(77.96,-0.71),(78.49,-0.71),(78.33,-1.10),(78.17,-1.385),
]

tick_bp = [48539, 18512631, 37620649, 58855829, 78623171]
y_ticks = [-2, -1, 0, 1, 2, 3]

cell_line = "SK\u2212MEL\u22125"
chrom = "chr17"

probes = probes_00_16 + probes_16_36 + probes_36_55 + probes_55_71 + probes_71_79
pos_bp = np.array([p[0] for p in probes]) * 1e6
log2_ratio = np.array([p[1] for p in probes])

fig = plt.figure(figsize=(11.23, 6.39), dpi=100)
ax = fig.add_axes([0.0552, 0.0829, 0.9475, 0.8529])

ax.axhline(0, color="#d6d6d6", lw=1.2, zorder=1)
ax.plot(pos_bp, log2_ratio, "o", color="black", ms=3.0, mew=0, zorder=2)

ax.set_xlim(-3129343, 81402316)
ax.set_ylim(-2.075, 3.028)

ax.set_xticks(tick_bp)
ax.set_xticklabels([str(t) for t in tick_bp])
ax.set_yticks(y_ticks)
ax.set_yticklabels([str(t).replace("-", "\u2212") for t in y_ticks], rotation=90, va="center")
ax.tick_params(axis="both", direction="out", length=6, width=0.8, labelsize=7.6, colors="black")
ax.tick_params(axis="x", pad=7)
ax.tick_params(axis="y", pad=6)
for side in ax.spines.values():
    side.set_linewidth(0.9)
    side.set_color("#222222")

fig.text(557 / 1123, 1 - 15 / 639, f"Cell Line  {cell_line} ; Chromosome  {chrom}",
         ha="center", va="center", fontsize=10, fontweight="bold")
fig.text(575 / 1123, 1 - 628 / 639, "Genomic Position", ha="center", va="center", fontsize=10)
fig.text(16 / 1123, 1 - 309 / 639, "log2(T/R)", ha="center", va="center", rotation=90, fontsize=10)

fig.savefig("out.png", dpi=100)
